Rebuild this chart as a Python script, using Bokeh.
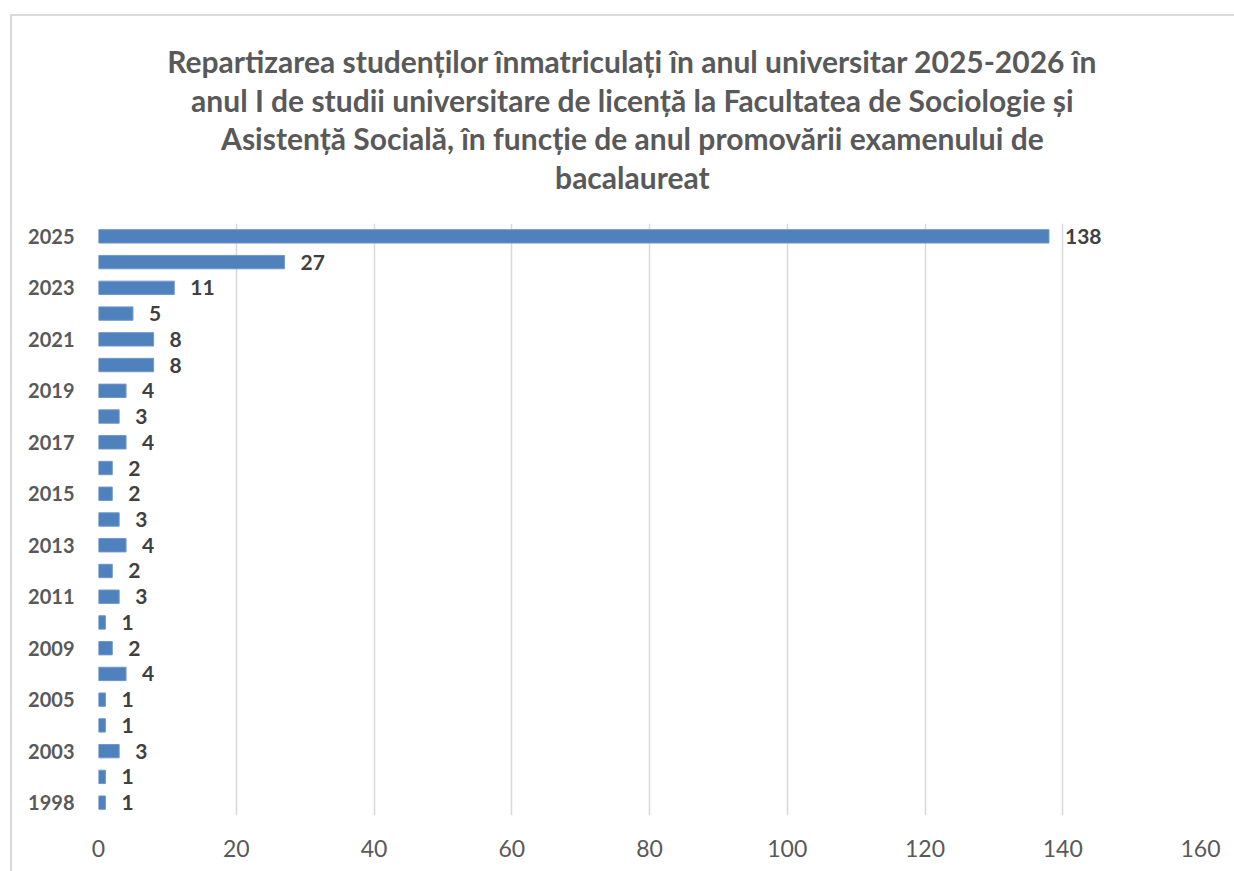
from bokeh.plotting import figure
from bokeh.layouts import column
from bokeh.models import Range1d, FixedTicker, ColumnDataSource, LabelSet
from bokeh.embed import file_html
from bokeh.resources import INLINE
from bokeh.core.properties import value

years = ["2025", "2024", "2023", "2022", "2021", "2020", "2019", "2018", "2017",
         "2016", "2015", "2014", "2013", "2012", "2011", "2010", "2009", "2007",
         "2005", "2004", "2003", "2000", "1998"]
counts = [138, 27, 11, 5, 8, 8, 4, 3, 4, 2, 2, 3, 4, 2, 3, 1, 2, 4, 1, 1, 3, 1, 1]
shown_years = ["2025", "2023", "2021", "2019", "2017", "2015", "2013", "2011",
               "2009", "2005", "2003", "1998"]
x_ticks = [0, 20, 40, 60, 80, 100, 120, 140, 160]
title_lines = [
    "Repartizarea studenților înmatriculați în anul universitar 2025-2026 în",
    "anul I de studii universitare de licență la Facultatea de Sociologie și",
    "Asistență Socială, în funcție de anul promovării examenului de",
    "bacalaureat",
]

FONT = "Lato"
W = 1222
TITLE_H = 207
CHART_H = 648

# ---- title panel ----
t = figure(width=W, height=TITLE_H, output_backend="svg", toolbar_location=None,
           x_range=Range1d(0, W), y_range=Range1d(0, TITLE_H),
           min_border=0, x_axis_location=None, y_axis_location=None)
t.grid.visible = False
t.outline_line_color = None
t.text(x=[592] * 4, y=[163, 124, 85.5, 47], text=title_lines,
       text_align="center", text_baseline="middle",
       text_font=value(FONT), text_font_style="bold",
       text_font_size="30px", text_color="#595959")

# ---- chart ----
n = len(years)
pos = [n - 1 - i for i in range(n)]
src = ColumnDataSource(dict(year=years, count=counts, pos=pos,
                            label=[str(c) for c in counts]))

p = figure(width=W, height=CHART_H, output_backend="svg", toolbar_location=None,
           x_range=Range1d(0, 160), y_range=Range1d(-0.5, n - 0.5),
           min_border_left=86, min_border_right=34, min_border_top=0,
           min_border_bottom=56)
p.outline_line_color = None

p.hbar(y="pos", right="count", left=0, height=0.52, source=src,
       fill_color="#4f81bd", line_color="#6f97c9", line_width=1)

labels = LabelSet(x="count", y="pos", text="label", source=src, x_offset=16,
                  text_baseline="middle", text_align="left",
                  text_font=value(FONT), text_font_style="bold",
                  text_font_size="21px", text_color="#404040")
p.add_layout(labels)

p.xaxis.ticker = FixedTicker(ticks=x_ticks)
p.xaxis.axis_line_color = None
p.xaxis.major_tick_line_color = None
p.xaxis.minor_tick_line_color = None
p.xaxis.major_label_standoff = 18
p.xaxis.major_label_text_font = FONT
p.xaxis.major_label_text_font_size = "23px"
p.xaxis.major_label_text_color = "#595959"

p.yaxis.ticker = FixedTicker(ticks=[pos[years.index(y)] for y in shown_years])
p.yaxis.major_label_overrides = {pos[years.index(y)]: y for y in shown_years}
p.yaxis.axis_line_color = None
p.yaxis.major_tick_line_color = None
p.yaxis.minor_tick_line_color = None
p.yaxis.major_label_standoff = 18
p.yaxis.major_label_text_font = FONT
p.yaxis.major_label_text_font_style = "bold"
p.yaxis.major_label_text_font_size = "20px"
p.yaxis.major_label_text_color = "#595959"

p.xgrid.grid_line_color = "#d9d9d9"
p.xgrid.grid_line_width = 1.5
p.ygrid.visible = False

layout = column(t, p, spacing=0, margin=(14, 0, 0, 10),
                styles={"border-left": "2px solid #d9d9d9",
                        "border-top": "2px solid #d9d9d9"})
open("out.html", "w").write(file_html(layout, INLINE))
